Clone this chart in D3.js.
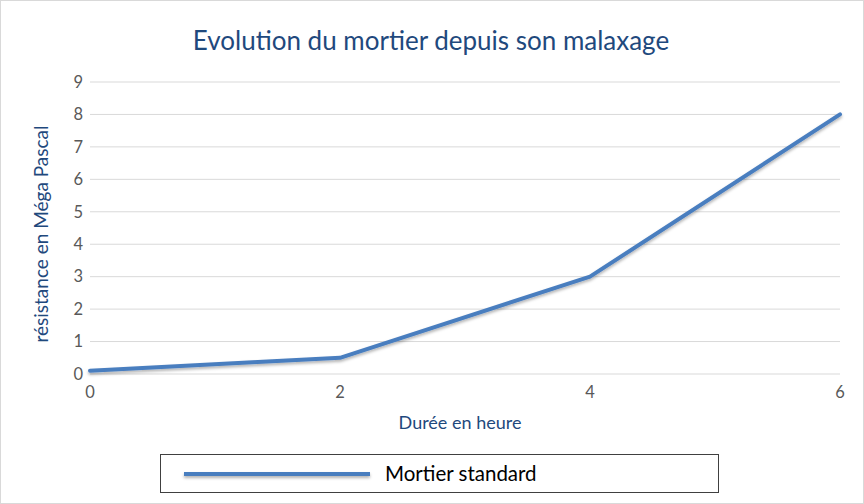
<!DOCTYPE html>
<html>
<head>
<meta charset="utf-8">
<script src="https://d3js.org/d3.v7.min.js"></script>
<style>
  body { margin:0; background:#fff; }
  svg { display:block; font-family: Lato, "Open Sans", sans-serif; }
  .grid line { stroke:#d9d9d9; stroke-width:1px; }
  .tick-label { fill:#595959; font-size:16.5px; }
</style>
</head>
<body>
<div id="chart"></div>
<script>
const hours = [0, 2, 4, 6];
const strength = [0.1, 0.5, 3, 8];
const yTicks = [0, 1, 2, 3, 4, 5, 6, 7, 8, 9];
const seriesName = "Mortier standard";
const chartTitle = "Evolution du mortier depuis son malaxage";
const xTitle = "Durée en heure";
const yTitle = "résistance en Méga Pascal";

const width = 864, height = 504;
const svg = d3.select("#chart").append("svg").attr("width", width).attr("height", height);

// outer frame
svg.append("rect").attr("x", 0.5).attr("y", 0.5).attr("width", width - 1).attr("height", height - 1)
  .attr("fill", "#fff").attr("stroke", "#d9d9d9");

const x = d3.scaleLinear().domain([0, 6]).range([90, 840]);
const y = d3.scaleLinear().domain([0, 9]).range([374, 82]);

// soft shadow under the series line (user space so flat lines keep it)
const defs = svg.append("defs");
const f = defs.append("filter").attr("id", "shadow")
  .attr("filterUnits", "userSpaceOnUse")
  .attr("x", 0).attr("y", 0).attr("width", width).attr("height", height);
f.append("feDropShadow").attr("dx", 0).attr("dy", 2).attr("stdDeviation", 1.5)
  .attr("flood-color", "#000").attr("flood-opacity", 0.3);

// gridlines
svg.append("g").attr("class", "grid").selectAll("line").data(yTicks).join("line")
  .attr("x1", x(0)).attr("x2", x(6))
  .attr("y1", d => y(d)).attr("y2", d => y(d));

// y tick labels
svg.append("g").selectAll("text").data(yTicks).join("text")
  .attr("class", "tick-label")
  .attr("x", 83).attr("y", d => y(d)).attr("dy", "0.35em")
  .attr("text-anchor", "end").text(d => d);

// x tick labels
svg.append("g").selectAll("text").data(hours).join("text")
  .attr("class", "tick-label")
  .attr("x", d => x(d)).attr("y", 398)
  .attr("text-anchor", "middle").text(d => d);

// line
const pts = hours.map((h, i) => [h, strength[i]]);
svg.append("path").datum(pts)
  .attr("fill", "none").attr("stroke", "#4a7ebf").attr("stroke-width", 4)
  .attr("stroke-linejoin", "round").attr("stroke-linecap", "round")
  .attr("filter", "url(#shadow)")
  .attr("d", d3.line().x(d => x(d[0])).y(d => y(d[1])));

// title
svg.append("text").attr("x", 431).attr("y", 50).attr("text-anchor", "middle")
  .attr("fill", "#1f497d").attr("font-size", 26).text(chartTitle);

// axis titles
svg.append("text").attr("x", 460).attr("y", 429).attr("text-anchor", "middle")
  .attr("fill", "#1f497d").attr("font-size", 18).text(xTitle);
svg.append("text").attr("transform", "translate(48,234) rotate(-90)").attr("text-anchor", "middle")
  .attr("fill", "#1f497d").attr("font-size", 19).text(yTitle);

// legend
svg.append("rect").attr("x", 160.5).attr("y", 454.5).attr("width", 558).attr("height", 38)
  .attr("fill", "#fff").attr("stroke", "#404040");
svg.append("line").attr("x1", 184).attr("x2", 370).attr("y1", 474).attr("y2", 474)
  .attr("stroke", "#4a7ebf").attr("stroke-width", 4).attr("filter", "url(#shadow)");
svg.append("text").attr("x", 385).attr("y", 474).attr("dy", "0.35em")
  .attr("fill", "#000").attr("font-size", 20.5).text(seriesName);
</script>
</body>
</html>
